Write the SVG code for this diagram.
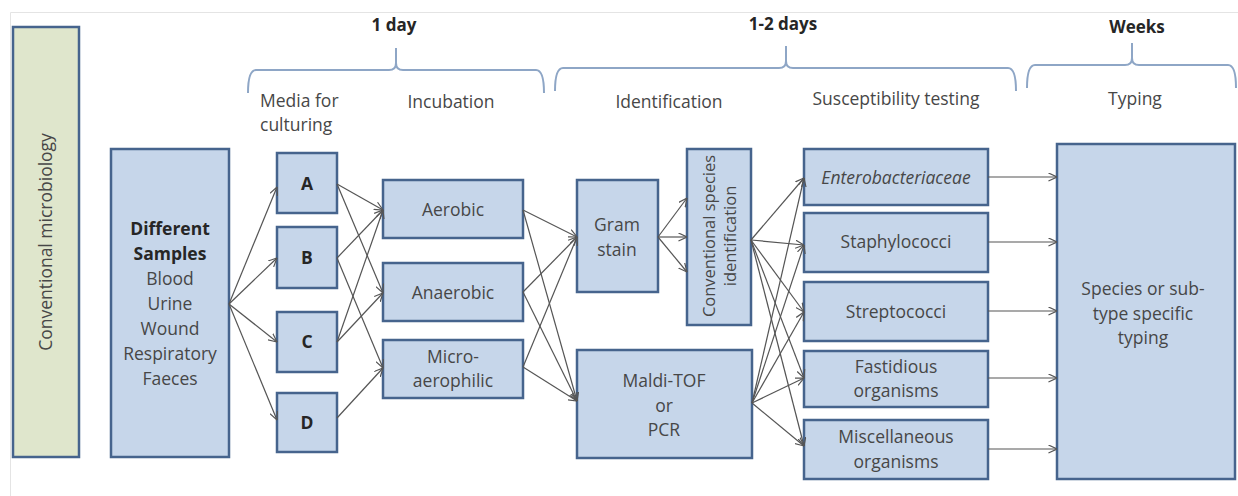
<svg xmlns="http://www.w3.org/2000/svg" width="1238" height="496" viewBox="0 0 1238 496">
<defs>
<marker id="arr" viewBox="0 0 10 10" refX="9.5" refY="5" markerWidth="9" markerHeight="9" markerUnits="userSpaceOnUse" orient="auto">
<path d="M0,0.5 L9.5,5 L0,9.5" fill="none" stroke="#555" stroke-width="1.3"/>
</marker>
<style>
.box{fill:#c6d6ea;stroke:#46648d;stroke-width:2.5}
.green{fill:#dfe6cc;stroke:#46648d;stroke-width:2.5}
.t{font-family:"Open Sans","Liberation Sans",sans-serif;font-size:17.5px;fill:#474747;text-anchor:middle}
.b{font-weight:bold;fill:#262626}
.h{font-family:"Open Sans","Liberation Sans",sans-serif;font-size:17px;font-weight:bold;fill:#262626;text-anchor:middle}
.brace{fill:none;stroke:#8ea6c6;stroke-width:2}
.c{fill:none;stroke:#555;stroke-width:1.2;marker-end:url(#arr)}
</style>
</defs>
<rect x="0" y="0" width="1238" height="496" fill="#fff"/>
<path d="M10.5,496 V12.5 H1238" fill="none" stroke="#e4e4e4" stroke-width="1"/>

<g id="headers">
<text class="h" x="394" y="31">1 day</text>
<text class="h" x="783" y="30">1-2 days</text>
<text class="h" x="1137" y="33">Weeks</text>
<path class="brace" d="M248,93 Q248,70 256,70 H389 Q396,70 396,63 V48 M396,63 Q396,70 403,70 H536 Q544,70 544,93"/>
<path class="brace" d="M555,91 Q555,68 563,68 H779 Q786,68 786,61 V46 M786,61 Q786,68 793,68 H1008 Q1016,68 1016,91"/>
<path class="brace" d="M1027,88 Q1027,65 1035,65 H1125 Q1132,65 1132,58 V43 M1132,58 Q1132,65 1139,65 H1228 Q1236,65 1236,88"/>
<text class="t" x="260" y="107" style="text-anchor:start">Media for</text>
<text class="t" x="260" y="131" style="text-anchor:start">culturing</text>
<text class="t" x="451" y="108">Incubation</text>
<text class="t" x="669" y="108">Identification</text>
<text class="t" x="896" y="105">Susceptibility testing</text>
<text class="t" x="1135" y="105">Typing</text>
</g>

<g id="conventional-microbiology">
<rect class="green" x="13" y="27" width="66" height="430"/>
<text class="t" transform="translate(52,242) rotate(-90)">Conventional microbiology</text>
</g>

<g id="samples">
<rect class="box" x="111" y="149" width="118" height="308"/>
<text class="t b" x="170" y="235">Different</text>
<text class="t b" x="170" y="260">Samples</text>
<text class="t" x="170" y="285">Blood</text>
<text class="t" x="170" y="310">Urine</text>
<text class="t" x="170" y="335">Wound</text>
<text class="t" x="170" y="360">Respiratory</text>
<text class="t" x="170" y="385">Faeces</text>
</g>

<g id="media-a"><rect class="box" x="277" y="153" width="60" height="60"/><text class="t b" x="307" y="190">A</text></g>
<g id="media-b"><rect class="box" x="277" y="227" width="60" height="61"/><text class="t b" x="307" y="264">B</text></g>
<g id="media-c"><rect class="box" x="277" y="312" width="60" height="60"/><text class="t b" x="307" y="348">C</text></g>
<g id="media-d"><rect class="box" x="277" y="393" width="60" height="59"/><text class="t b" x="307" y="429">D</text></g>

<g id="aerobic"><rect class="box" x="383" y="180" width="140" height="58"/><text class="t" x="453" y="216">Aerobic</text></g>
<g id="anaerobic"><rect class="box" x="383" y="263" width="140" height="58"/><text class="t" x="453" y="299">Anaerobic</text></g>
<g id="microaerophilic"><rect class="box" x="383" y="340" width="140" height="58"/><text class="t" x="453" y="363">Micro-</text><text class="t" x="453" y="387">aerophilic</text></g>

<g id="gram-stain"><rect class="box" x="577" y="180" width="81" height="112"/><text class="t" x="617" y="231">Gram</text><text class="t" x="617" y="256">stain</text></g>
<g id="conventional-species"><rect class="box" x="687" y="149" width="64" height="176"/>
<text class="t" style="font-size:16.5px" transform="translate(715,236) rotate(-90)">Conventional species</text>
<text class="t" style="font-size:16.5px" transform="translate(736,236) rotate(-90)">identification</text></g>
<g id="maldi"><rect class="box" x="577" y="350" width="175" height="108"/><text class="t" x="664" y="387">Maldi-TOF</text><text class="t" x="664" y="412">or</text><text class="t" x="664" y="436">PCR</text></g>

<g id="enterobacteriaceae"><rect class="box" x="804" y="149" width="184" height="56"/><text class="t" x="896" y="184" style="font-style:italic">Enterobacteriaceae</text></g>
<g id="staphylococci"><rect class="box" x="804" y="213" width="184" height="59"/><text class="t" x="896" y="248">Staphylococci</text></g>
<g id="streptococci"><rect class="box" x="804" y="282" width="184" height="59"/><text class="t" x="896" y="318">Streptococci</text></g>
<g id="fastidious"><rect class="box" x="804" y="351" width="184" height="56"/><text class="t" x="896" y="373">Fastidious</text><text class="t" x="896" y="397">organisms</text></g>
<g id="miscellaneous"><rect class="box" x="804" y="420" width="184" height="59"/><text class="t" x="896" y="443">Miscellaneous</text><text class="t" x="896" y="468">organisms</text></g>

<g id="typing"><rect class="box" x="1057" y="144" width="178" height="335"/>
<text class="t" x="1143" y="295">Species or sub-</text><text class="t" x="1143" y="320">type specific</text><text class="t" x="1143" y="344">typing</text></g>

<g id="connectors">
<line class="c" x1="229" y1="304" x2="277" y2="187"/>
<line class="c" x1="229" y1="304" x2="277" y2="258"/>
<line class="c" x1="229" y1="304" x2="277" y2="342"/>
<line class="c" x1="229" y1="304" x2="277" y2="420"/>

<line class="c" x1="337" y1="184" x2="383" y2="210"/>
<line class="c" x1="337" y1="184" x2="383" y2="293"/>
<line class="c" x1="337" y1="258" x2="383" y2="210"/>
<line class="c" x1="337" y1="258" x2="383" y2="368"/>
<line class="c" x1="337" y1="342" x2="383" y2="210"/>
<line class="c" x1="337" y1="342" x2="383" y2="293"/>
<line class="c" x1="337" y1="418" x2="383" y2="368"/>

<line class="c" x1="523" y1="210" x2="577" y2="237"/>
<line class="c" x1="523" y1="210" x2="577" y2="401"/>
<line class="c" x1="523" y1="292" x2="577" y2="237"/>
<line class="c" x1="523" y1="292" x2="577" y2="401"/>
<line class="c" x1="523" y1="367" x2="577" y2="237"/>
<line class="c" x1="523" y1="367" x2="577" y2="401"/>

<line class="c" x1="658" y1="237" x2="687" y2="198"/>
<line class="c" x1="658" y1="237" x2="687" y2="237"/>
<line class="c" x1="658" y1="237" x2="687" y2="272"/>

<line class="c" x1="751" y1="240" x2="804" y2="178"/>
<line class="c" x1="751" y1="240" x2="804" y2="245"/>
<line class="c" x1="751" y1="240" x2="804" y2="312"/>
<line class="c" x1="751" y1="240" x2="804" y2="378"/>
<line class="c" x1="751" y1="240" x2="804" y2="446"/>
<line class="c" x1="752" y1="403" x2="804" y2="178"/>
<line class="c" x1="752" y1="403" x2="804" y2="245"/>
<line class="c" x1="752" y1="403" x2="804" y2="312"/>
<line class="c" x1="752" y1="403" x2="804" y2="378"/>
<line class="c" x1="752" y1="403" x2="804" y2="446"/>

<line class="c" x1="988" y1="177" x2="1057" y2="177"/>
<line class="c" x1="988" y1="242" x2="1057" y2="242"/>
<line class="c" x1="988" y1="311" x2="1057" y2="311"/>
<line class="c" x1="988" y1="378" x2="1057" y2="378"/>
<line class="c" x1="988" y1="449" x2="1057" y2="449"/>
</g>
</svg>
